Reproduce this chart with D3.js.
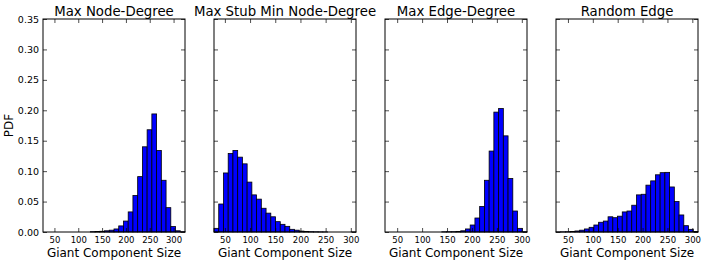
<!DOCTYPE html>
<html>
<head>
<meta charset="utf-8">
<script src="https://cdn.jsdelivr.net/npm/d3@7/dist/d3.min.js"></script>
<style>
  body { margin: 0; background: #fff; }
  .vis svg { display: block; font-family: "DejaVu Sans", sans-serif; }
</style>
</head>
<body>
<div class="vis"></div>
<script>
// panel titles and histogram range (min..max of giant component size), 30 bins each
var titles = ["Max Node-Degree", "Max Stub Min Node-Degree", "Max Edge-Degree", "Random Edge"];
var binRanges = [[26, 324], [28.4, 310.3], [25.6, 310.4], [26, 311.4]];
var binCount = 30;

// PDF values per bin
var maxNodeDegree = [0, 0, 0, 0, 0, 0, 0, 0, 0, 0,
  0.0005, 0.0008, 0.0012, 0.002, 0.003, 0.005, 0.010, 0.018, 0.033, 0.060,
  0.091, 0.140, 0.168, 0.194, 0.134, 0.085, 0.040, 0.009, 0.002, 0.0005];
var maxStubMinNodeDegree = [0.006, 0.046, 0.097, 0.129, 0.134, 0.123, 0.112, 0.082, 0.061, 0.054,
  0.039, 0.031, 0.025, 0.017, 0.0126, 0.0093, 0.0044, 0.003, 0.0015, 0.001,
  0.0005, 0.0003, 0.0002, 0.0001, 0, 0, 0, 0, 0, 0.0001];
var maxEdgeDegree = [0, 0, 0, 0, 0, 0, 0, 0, 0, 0,
  0, 0, 0.0003, 0.0004, 0.0005, 0.001, 0.002, 0.005, 0.0115, 0.023,
  0.042, 0.085, 0.133, 0.197, 0.203, 0.158, 0.088, 0.0345, 0.006, 0.0005];
var randomEdge = [0.0001, 0.0002, 0.0004, 0.0008, 0.0017, 0.003, 0.005, 0.0077, 0.0115, 0.016,
  0.018, 0.025, 0.0235, 0.026, 0.033, 0.0345, 0.044, 0.061, 0.062, 0.077,
  0.084, 0.094, 0.0975, 0.098, 0.074, 0.050, 0.028, 0.0104, 0.0044, 0.0008];

var xTicks = [50, 100, 150, 200, 250, 300];
var yTicks = [0, 0.05, 0.10, 0.15, 0.20, 0.25, 0.30, 0.35];
var yLabel = "PDF";
var xLabel = "Giant Component Size";

var chart = {

  hold: {
    width: 706,
    height: 265,
    left: 43,
    top: 19,
    bottom: 232,
    panelWidth: 142,
    step: 171
  },

  setUp: function(){
    var series = [maxNodeDegree, maxStubMinNodeDegree, maxEdgeDegree, randomEdge];

    var svg = d3.select(".vis")
      .append("svg")
        .attr("width", chart.hold.width)
        .attr("height", chart.hold.height);

    chart.hold.y = d3.scaleLinear()
      .domain([0, 0.35])
      .range([chart.hold.bottom, chart.hold.top]);

    series.forEach(function(values, i){
      chart.drawPanel(svg, i, values);
    });

    // shared y label
    svg.append("text")
      .attr("transform", "translate(13.3," + (chart.hold.top + chart.hold.bottom) / 2 + ") rotate(-90)")
      .attr("text-anchor", "middle")
      .style("font-size", "12px")
      .text(yLabel);
  },

  drawPanel: function(svg, i, values){
    var h = chart.hold;
    var x0 = h.left + i * h.step;
    var range = binRanges[i];
    var binWidth = (range[1] - range[0]) / binCount;

    var x = d3.scaleLinear()
      .domain(range)
      .range([0, h.panelWidth]);
    var y = h.y;

    var g = svg.append("g")
      .attr("transform", "translate(" + x0 + ",0)");

    var bins = values.map(function(v, k){
      return {x0: range[0] + k * binWidth, x1: range[0] + (k + 1) * binWidth, v: v};
    });

    g.selectAll("rect.bar")
      .data(bins)
      .enter()
      .append("rect")
        .attr("class", "bar")
        .attr("x", function(d){ return x(d.x0); })
        .attr("width", function(d){ return x(d.x1) - x(d.x0); })
        .attr("y", function(d){ return y(d.v); })
        .attr("height", function(d){ return y(0) - y(d.v); })
        .attr("fill", "#0000ff")
        .attr("stroke", "#000")
        .attr("stroke-width", 0.8);

    // ticks point inward on all four sides
    var bottomAxis = g.append("g")
      .attr("transform", "translate(0," + h.bottom + ")")
      .call(d3.axisBottom(x).tickValues(xTicks).tickSize(-4).tickPadding(5));
    bottomAxis.selectAll("text").style("font-size", "8.5px");

    g.append("g")
      .attr("transform", "translate(0," + h.top + ")")
      .call(d3.axisTop(x).tickValues(xTicks).tickSize(-4).tickFormat(""));

    var leftAxis = g.append("g")
      .call(d3.axisLeft(y).tickValues(yTicks).tickSize(-4).tickPadding(4)
        .tickFormat(d3.format(".2f")));
    if (i > 0) leftAxis.selectAll("text").remove();
    leftAxis.selectAll("text").style("font-size", "9.5px");

    g.append("g")
      .attr("transform", "translate(" + h.panelWidth + ",0)")
      .call(d3.axisRight(y).tickValues(yTicks).tickSize(-4).tickFormat(""));

    g.selectAll(".domain").remove();
    g.selectAll(".tick line").attr("stroke", "#000").attr("stroke-width", 0.7);
    g.selectAll(".tick text").attr("fill", "#000").style("font-family", "DejaVu Sans, sans-serif");

    // spines
    g.append("rect")
      .attr("x", 0)
      .attr("y", h.top)
      .attr("width", h.panelWidth)
      .attr("height", h.bottom - h.top)
      .attr("fill", "none")
      .attr("stroke", "#000")
      .attr("stroke-width", 1);

    g.append("text")
      .attr("x", h.panelWidth / 2)
      .attr("y", 15.5)
      .attr("text-anchor", "middle")
      .style("font-size", "13.3px")
      .text(titles[i]);

    g.append("text")
      .attr("x", h.panelWidth / 2)
      .attr("y", 257)
      .attr("text-anchor", "middle")
      .style("font-size", "12px")
      .text(xLabel);
  }

};

chart.setUp();
</script>
</body>
</html>
